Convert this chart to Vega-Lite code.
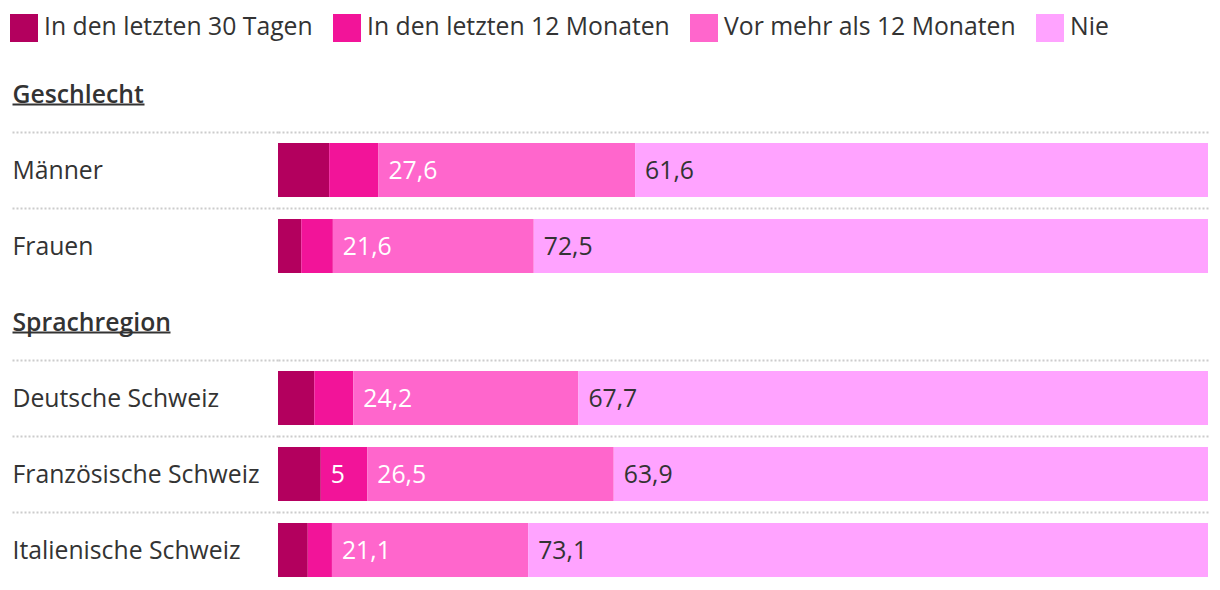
{
  "$schema": "https://vega.github.io/schema/vega-lite/v6.json",
  "width": 930,
  "height": 532,
  "autosize": {"type": "pad"},
  "padding": {"left": 10, "top": 14, "right": 12, "bottom": 2},
  "config": {
    "view": {"stroke": null},
    "font": "Open Sans",
    "locale": {"number": {"decimal": ",", "thousands": ".", "grouping": [3], "currency": ["", " CHF"]}}
  },
  "data": {
    "values": [
      {"row": "Männer", "cat": "In den letzten 30 Tagen", "order": 1, "value": 5.5},
      {"row": "Männer", "cat": "In den letzten 12 Monaten", "order": 2, "value": 5.3},
      {"row": "Männer", "cat": "Vor mehr als 12 Monaten", "order": 3, "value": 27.6},
      {"row": "Männer", "cat": "Nie", "order": 4, "value": 61.6},
      {"row": "Frauen", "cat": "In den letzten 30 Tagen", "order": 1, "value": 2.5},
      {"row": "Frauen", "cat": "In den letzten 12 Monaten", "order": 2, "value": 3.4},
      {"row": "Frauen", "cat": "Vor mehr als 12 Monaten", "order": 3, "value": 21.6},
      {"row": "Frauen", "cat": "Nie", "order": 4, "value": 72.5},
      {"row": "Deutsche Schweiz", "cat": "In den letzten 30 Tagen", "order": 1, "value": 3.9},
      {"row": "Deutsche Schweiz", "cat": "In den letzten 12 Monaten", "order": 2, "value": 4.2},
      {"row": "Deutsche Schweiz", "cat": "Vor mehr als 12 Monaten", "order": 3, "value": 24.2},
      {"row": "Deutsche Schweiz", "cat": "Nie", "order": 4, "value": 67.7},
      {"row": "Französische Schweiz", "cat": "In den letzten 30 Tagen", "order": 1, "value": 4.6},
      {"row": "Französische Schweiz", "cat": "In den letzten 12 Monaten", "order": 2, "value": 5},
      {"row": "Französische Schweiz", "cat": "Vor mehr als 12 Monaten", "order": 3, "value": 26.5},
      {"row": "Französische Schweiz", "cat": "Nie", "order": 4, "value": 63.9},
      {"row": "Italienische Schweiz", "cat": "In den letzten 30 Tagen", "order": 1, "value": 3.2},
      {"row": "Italienische Schweiz", "cat": "In den letzten 12 Monaten", "order": 2, "value": 2.6},
      {"row": "Italienische Schweiz", "cat": "Vor mehr als 12 Monaten", "order": 3, "value": 21.1},
      {"row": "Italienische Schweiz", "cat": "Nie", "order": 4, "value": 73.1}
    ]
  },
  "transform": [
    {"stack": "value", "groupby": ["row"], "sort": [{"field": "order", "order": "ascending"}], "as": ["v0", "v1"]}
  ],
  "resolve": {"axis": {"y": "independent"}},
  "layer": [
    {
      "mark": {"type": "bar", "height": {"band": 0.71}},
      "encoding": {
        "y": {
          "field": "row",
          "type": "nominal",
          "scale": {
            "domain": ["Geschlecht", "Männer", "Frauen", "Sprachregion", "Deutsche Schweiz", "Französische Schweiz", "Italienische Schweiz"],
            "paddingInner": 0,
            "paddingOuter": 0
          },
          "axis": {
            "orient": "left",
            "title": null,
            "domain": false,
            "bandPosition": 0,
            "tickSize": 266,
            "tickColor": "#cccccc",
            "tickWidth": 2,
            "tickDash": [2, 2],
            "tickOpacity": {"condition": {"test": "datum.value == 'Geschlecht' || datum.value == 'Sprachregion'", "value": 0}, "value": 1},
            "grid": true,
            "gridColor": "#cccccc",
            "gridWidth": 2,
            "gridDash": [2, 2],
            "gridOpacity": {"condition": {"test": "datum.value == 'Geschlecht' || datum.value == 'Sprachregion'", "value": 0}, "value": 1},
            "labelAlign": "left",
            "labelPadding": 0,
            "labelOffset": 2,
            "labelFontSize": 24.75,
            "labelColor": "#333333",
            "labelLimit": 0,
            "labelFontWeight": {"condition": {"test": "datum.value == 'Geschlecht' || datum.value == 'Sprachregion'", "value": 600}, "value": "normal"}
          }
        },
        "x": {"field": "v0", "type": "quantitative", "scale": {"domain": [0, 100], "nice": false}, "axis": null},
        "x2": {"field": "v1"},
        "color": {
          "field": "cat",
          "type": "nominal",
          "scale": {
            "domain": ["In den letzten 30 Tagen", "In den letzten 12 Monaten", "Vor mehr als 12 Monaten", "Nie"],
            "range": ["#b3005e", "#f21499", "#ff66cc", "#ffa3ff"]
          },
          "legend": {
            "title": null,
            "orient": "none",
            "legendX": -268,
            "legendY": -42,
            "direction": "horizontal",
            "symbolType": "square",
            "symbolSize": 784,
            "symbolStrokeWidth": 0,
            "symbolOpacity": 1,
            "labelFontSize": 24.75,
            "labelColor": "#333333",
            "labelOffset": 6,
            "columnPadding": 20,
            "labelLimit": 0
          }
        }
      }
    },
    {
      "transform": [
        {"filter": "datum.value * 9.3 >= length(format(datum.value, '.1~f')) * 13 + 20"}
      ],
      "mark": {"type": "text", "align": "left", "baseline": "middle", "dx": 10, "dy": 2, "fontSize": 24.75},
      "encoding": {
        "y": {
          "field": "row",
          "type": "nominal",
          "axis": {
            "orient": "left",
            "title": null,
            "domain": false,
            "labels": false,
            "grid": false,
            "offset": 266,
            "bandPosition": 0.64,
            "tickColor": "#333333",
            "tickWidth": 2,
            "tickSize": {"condition": {"test": "datum.value == 'Geschlecht'", "value": -132}, "value": -158},
            "tickOpacity": {"condition": {"test": "datum.value == 'Geschlecht' || datum.value == 'Sprachregion'", "value": 1}, "value": 0}
          }
        },
        "x": {"field": "v0", "type": "quantitative"},
        "text": {"field": "value", "type": "quantitative", "format": ".1~f"},
        "color": {
          "condition": {"test": "datum.cat == 'Nie'", "value": "#333333"},
          "value": "#ffffff"
        }
      }
    }
  ]
}
